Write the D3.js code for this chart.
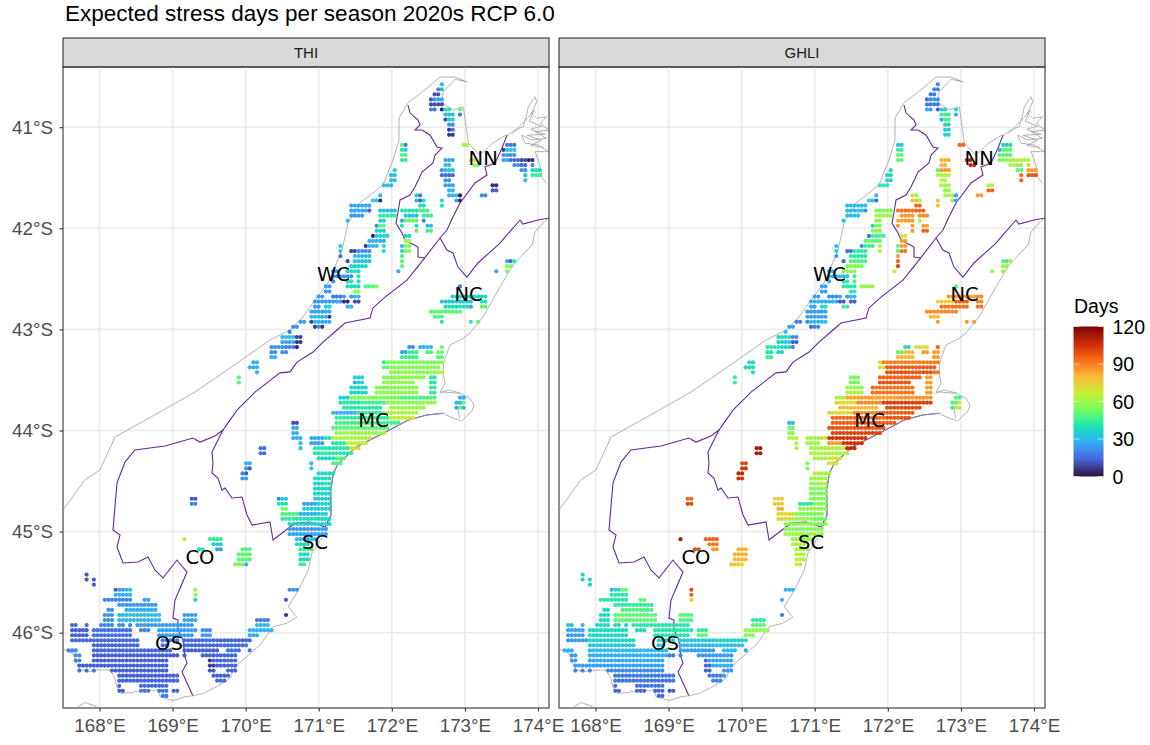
<!DOCTYPE html>
<html>
<head>
<meta charset="utf-8">
<script src="https://cdn.jsdelivr.net/npm/d3@7"></script>
<style>
body { margin: 0; background: #fff; }
svg { display: block; }
text { font-family: "Liberation Sans", Arial, sans-serif; }
</style>
</head>
<body>
<script>
var w = 1150;
var h = 745;

var panels = ["THI", "GHLI"];
var lonTicks = [168, 169, 170, 171, 172, 173, 174];
var latTicks = [41, 42, 43, 44, 45, 46];
var legendTicks = [0, 30, 60, 90, 120];
var turboColors = ["#30123B", "#4662D7", "#36AAF9", "#1AE4B6", "#72FE5E", "#C8EF34", "#FABA39", "#F66B19", "#CB2A04", "#7A0403"];

var regionNames = ["NN", "WC", "NC", "MC", "SC", "CO", "OS"];
var regionLons = [173.25, 171.2, 173.05, 171.75, 170.95, 169.375, 168.95];
var regionLats = [41.3, 42.45, 42.65, 43.9, 45.1, 45.25, 46.1];

// grid cells, one run per row: lat, first lon, last lon, THI days, GHLI days
var osRuns = [
    [45.425,167.825,167.825,12,36],[45.475,167.825,167.825,12,36],[45.475,167.925,167.925,13,36],[45.525,167.925,167.925,13,36],
    [45.575,168.225,168.225,12,28],[45.575,168.275,168.325,25,38],[45.575,168.375,168.425,30,52],
    [45.625,168.225,168.425,28,42],
    [45.675,168.075,168.425,20,42],[45.675,168.625,168.675,25,50],
    [45.725,168.275,168.775,24,44],
    [45.775,168.125,168.175,22,38],[45.775,168.375,168.775,28,48],
    [45.825,168.075,168.175,22,38],[45.825,168.275,168.825,30,50],[45.825,169.175,169.325,24,48],
    [45.875,168.075,168.175,22,38],[45.875,168.275,168.825,30,50],[45.875,169.175,169.325,26,48],[45.875,170.175,170.325,18,42],
    [45.925,167.625,167.675,15,30],[45.925,167.825,167.825,15,30],[45.925,168.025,168.175,20,38],[45.925,168.275,168.325,22,38],[45.925,168.425,168.425,18,36],[45.925,168.525,169.275,24,42],[45.925,170.175,170.325,30,50],
    [45.975,167.625,167.825,13,26],[45.975,167.925,168.425,16,38],[45.975,168.575,168.675,20,38],[45.975,168.825,169.325,25,42],[45.975,169.425,169.525,22,44],[45.975,170.075,170.375,28,58],
    [46.025,167.625,167.825,13,24],[46.025,167.925,168.425,16,38],[46.025,168.825,169.275,24,42],[46.025,169.425,169.525,24,50],[46.025,170.075,170.175,26,55],
    [46.075,167.625,167.875,15,24],[46.075,167.925,168.525,15,36],[46.075,168.875,169.075,18,36],[46.075,169.175,169.625,15,34],[46.075,169.675,170.075,14,36],
    [46.125,167.925,168.525,14,34],[46.125,168.875,168.925,16,34],[46.125,169.175,169.625,14,30],[46.125,169.675,170.025,16,32],
    [46.175,167.575,167.675,20,28],[46.175,167.925,168.775,14,30],[46.175,168.825,168.975,14,30],[46.175,169.175,169.625,13,24],[46.175,169.775,169.925,16,30],[46.175,170.075,170.075,18,26],
    [46.225,167.675,167.725,22,24],[46.225,167.925,168.975,13,28],[46.225,169.025,169.075,12,18],[46.225,169.175,169.175,13,20],[46.225,169.425,169.875,14,24],
    [46.275,167.675,167.725,20,24],[46.275,167.925,168.925,13,27],[46.275,169.525,169.525,6,14],[46.275,169.575,169.875,14,26],
    [46.325,167.725,168.925,13,25],[46.325,169.525,169.575,7,14],[46.325,169.625,169.875,14,28],
    [46.375,167.725,167.725,17,20],[46.375,167.825,167.825,17,20],[46.375,167.925,167.925,17,20],[46.375,168.175,168.925,13,21],[46.375,169.525,169.575,12,14],[46.375,169.775,169.875,14,24],
    [46.425,168.275,169.075,13,18],[46.425,169.575,169.725,13,18],[46.425,169.775,169.775,14,24],
    [46.475,168.275,169.075,14,17],[46.475,169.625,169.725,14,20],
    [46.525,168.275,168.275,14,16],[46.525,168.575,168.925,15,17],
    [46.575,168.275,168.325,14,15],[46.575,168.575,168.675,17,14],[46.575,168.825,168.925,17,14],[46.575,169.025,169.075,14,12],
    [46.625,168.875,168.925,18,14],
    [45.575,170.625,170.725,22,30],[45.675,170.575,170.575,12,28],[45.825,170.575,170.575,6,18]
];

var coRuns = [
    [45.075,169.175,169.175,62,112],[45.075,169.525,169.675,44,95],[45.125,169.575,169.675,34,90],
    [45.175,169.375,169.425,40,100],[45.175,169.625,169.675,24,85],[45.175,169.975,170.075,48,82],
    [45.225,169.925,170.075,50,82],[45.275,169.925,170.075,50,80],[45.325,169.875,169.975,55,78],[45.325,170.025,170.025,30,68],
    [45.575,169.325,169.325,58,100],[45.625,169.325,169.325,56,95],[45.675,169.325,169.325,38,75],
    [44.175,170.225,170.275,16,112],[44.225,170.225,170.275,16,112],
    [44.325,170.025,170.075,28,100],[44.375,170.025,170.025,22,105],[44.375,170.075,170.075,12,105],
    [44.425,169.975,169.975,20,108],[44.425,170.025,170.025,12,108],[44.475,169.975,170.025,24,105],
    [44.675,169.275,169.325,12,95],[44.725,169.275,169.325,20,100],
    [43.475,169.925,169.925,50,45],[43.525,169.925,169.925,50,45],
    [43.325,170.125,170.175,28,38],[43.375,170.075,170.175,28,38],[43.425,170.175,170.175,30,38]
];

var mcRuns = [
    [43.175,172.275,172.325,22,38],[43.175,172.425,172.575,30,70],[43.175,172.725,172.725,52,95],
    [43.225,172.175,172.225,25,50],[43.225,172.275,172.375,45,80],[43.225,172.525,172.575,48,85],[43.225,172.675,172.725,52,85],
    [43.275,172.175,172.375,45,80],[43.275,172.675,172.725,50,85],
    [43.325,171.925,171.925,42,66],[43.325,171.975,172.725,55,90],
    [43.375,171.925,171.975,50,70],[43.375,172.025,172.675,56,96],
    [43.425,172.025,172.625,58,98],[43.425,172.675,172.725,62,92],
    [43.475,171.525,171.625,35,55],[43.475,171.925,172.475,56,95],[43.475,172.575,172.625,42,85],
    [43.525,171.525,171.525,25,52],[43.525,171.575,171.625,35,52],[43.525,171.925,172.325,58,98],[43.525,172.575,172.625,42,85],
    [43.575,171.475,171.675,38,60],[43.575,171.825,172.375,56,92],[43.575,172.575,172.625,44,85],
    [43.625,171.475,171.675,36,62],[43.625,171.825,172.375,58,92],[43.625,172.575,172.625,44,85],
    [43.675,171.325,171.425,36,62],[43.675,171.475,172.125,55,84],[43.675,172.175,172.625,48,86],
    [43.725,171.325,171.575,42,72],[43.725,171.625,171.925,46,88],[43.725,171.975,172.625,58,102],
    [43.775,171.375,171.875,42,80],[43.775,172.025,172.475,60,100],
    [43.825,171.225,171.525,30,72],[43.825,171.575,171.875,44,88],[43.825,171.925,172.375,62,96],
    [43.875,171.275,171.975,44,94],[43.875,172.025,172.225,65,98],[43.875,172.275,172.325,70,98],
    [43.925,171.275,172.125,46,96],
    [43.975,171.225,171.975,50,98],
    [44.025,171.275,171.925,60,102],
    [44.075,170.675,170.775,28,62],[44.075,170.925,171.075,26,60],[44.075,171.125,171.175,40,72],[44.075,171.225,171.725,62,105],
    [44.125,170.775,170.775,32,62],[44.125,170.925,171.075,25,60],[44.125,171.225,171.375,42,85],[44.125,171.425,171.675,65,105],
    [44.175,170.775,170.775,32,62],[44.175,170.975,171.425,42,62],[44.175,171.475,171.575,72,108],
    [44.225,170.975,171.475,42,62],
    [44.275,171.025,171.225,38,62],[44.275,171.275,171.375,48,70],
    [44.325,170.925,170.925,30,55],[44.325,171.225,171.325,48,70],
    [44.375,170.925,170.925,36,55],
    [43.675,172.975,173.025,28,48],[43.725,172.925,172.975,30,48],[43.725,173.025,173.025,50,70],[43.775,172.925,172.925,26,44],[43.775,172.975,172.975,50,70],[43.775,173.025,173.025,30,60],
    [43.925,170.675,170.725,10,30],[43.975,170.675,170.725,26,52],[44.025,170.675,170.725,28,58]
];

var scRuns = [
    [44.425,171.025,171.225,38,62],
    [44.475,170.975,171.175,38,60],
    [44.525,170.975,171.075,38,58],[44.525,171.125,171.175,42,62],
    [44.575,170.975,171.175,36,56],
    [44.625,170.975,171.175,36,55],
    [44.675,170.475,170.475,20,72],[44.675,170.525,170.575,34,75],[44.675,170.975,171.175,34,55],
    [44.725,170.475,170.575,40,75],[44.725,170.825,170.975,24,42],[44.725,171.025,171.175,36,55],
    [44.775,170.525,170.575,55,82],[44.775,170.825,171.175,36,58],
    [44.825,170.525,170.725,48,72],[44.825,170.775,170.975,28,55],[44.825,171.025,171.125,36,55],
    [44.875,170.525,170.675,44,72],[44.875,170.725,170.975,40,58],[44.875,171.025,171.175,36,52],
    [44.925,170.625,171.175,35,56],
    [44.975,170.625,171.125,24,56],
    [45.025,170.625,171.125,26,60],
    [45.075,170.725,170.975,30,58],
    [45.125,170.725,170.875,38,62],
    [45.175,170.775,170.925,45,62],
    [45.225,170.775,170.875,38,65],
    [45.275,170.775,170.875,38,65],
    [45.325,170.775,170.825,44,68]
];

var wcRuns = [
    [41.175,172.175,172.175,50,32],[41.175,172.225,172.225,18,32],
    [41.225,172.175,172.175,42,45],[41.225,172.225,172.225,34,45],
    [41.275,172.175,172.225,48,50],[41.325,172.175,172.225,45,50],
    [41.425,172.075,172.075,38,38],[41.475,172.025,172.075,32,36],[41.525,172.025,172.075,32,36],
    [41.575,171.925,172.025,30,42],
    [41.675,171.875,171.875,30,30],
    [41.725,171.775,171.825,35,35],[41.725,171.875,171.875,4,15],
    [41.775,171.475,171.725,26,30],
    [41.825,171.475,171.675,26,32],[41.825,171.725,171.725,14,22],[41.825,171.875,172.075,32,55],
    [41.875,171.475,171.625,24,32],[41.875,171.875,172.075,44,60],
    [41.925,171.425,171.425,30,35],[41.925,171.875,171.925,36,58],
    [41.975,171.825,171.825,20,38],[41.975,171.875,171.925,50,55],
    [42.025,171.825,171.925,36,55],
    [42.075,171.775,171.775,3,15],[42.075,171.825,171.975,36,46],
    [42.125,171.725,171.925,28,50],
    [42.175,171.325,171.325,35,33],[42.175,171.675,171.675,6,20],[42.175,171.725,171.825,30,45],[42.175,171.925,171.925,40,62],
    [42.225,171.325,171.325,35,35],[42.225,171.475,171.525,8,15],[42.225,171.575,171.725,22,42],[42.225,171.925,171.925,40,62],
    [42.275,171.325,171.325,16,25],[42.275,171.525,171.725,30,42],
    [42.325,171.425,171.425,10,14],[42.325,171.525,171.725,32,48],
    [42.375,171.475,171.675,38,55],
    [42.425,171.225,171.275,22,30],[42.425,171.425,171.575,38,58],
    [42.475,171.225,171.475,22,30],[42.475,171.575,171.575,40,45],
    [42.525,171.225,171.225,22,28],[42.525,171.425,171.475,40,42],[42.525,171.575,171.575,40,45],
    [42.575,171.125,171.175,24,25],[42.575,171.425,171.575,38,42],[42.575,171.675,171.775,48,58],[42.575,171.825,171.825,54,62],
    [42.625,171.125,171.175,24,25],[42.625,171.525,171.575,58,42],
    [42.675,171.025,171.075,24,25],[42.675,171.225,171.325,18,22],[42.675,171.375,171.375,24,25],[42.675,171.475,171.475,24,24],[42.675,171.525,171.575,32,30],
    [42.725,170.975,171.325,24,28],[42.725,171.375,171.425,5,12],[42.725,171.525,171.575,10,14],
    [42.775,170.975,171.025,24,26],[42.775,171.125,171.175,35,38],[42.775,171.425,171.475,28,45],
    [42.825,170.925,171.175,26,24],
    [42.875,170.925,171.125,30,26],[42.875,171.175,171.175,6,26],
    [42.925,170.775,170.825,24,18],[42.925,170.925,170.925,8,20],[42.925,170.975,171.175,28,30],
    [42.975,170.675,170.725,22,25],[42.975,170.975,170.975,6,14],[42.975,171.025,171.025,22,18],[42.975,171.075,171.075,6,20],
    [43.025,170.625,170.625,18,32],
    [43.075,170.525,170.675,30,38],[43.075,170.725,170.775,8,20],
    [43.125,170.525,170.675,26,35],[43.125,170.725,170.775,6,12],
    [43.175,170.375,170.525,22,42],[43.175,170.575,170.675,18,36],[43.175,170.725,170.725,3,20],
    [43.225,170.375,170.425,22,40],[43.225,170.525,170.575,22,38],
    [43.275,170.375,170.425,28,45]
];

var nnRuns = [
    [40.575,172.725,172.725,30,20],[40.625,172.675,172.675,20,20],[40.625,172.725,172.725,30,20],
    [40.675,172.625,172.675,10,17],
    [40.725,172.575,172.575,10,14],[40.725,172.625,172.725,25,22],
    [40.775,172.575,172.725,10,18],
    [40.825,172.575,172.625,18,26],[40.825,172.725,172.725,3,12],[40.825,172.775,172.825,40,35],[40.825,172.975,172.975,50,40],
    [40.875,172.775,172.875,32,45],[40.875,172.975,172.975,18,28],
    [40.925,172.775,172.775,10,28],[40.925,172.825,172.875,35,48],
    [40.975,172.825,172.875,22,38],
    [41.025,172.825,172.825,5,35],[41.025,172.875,172.875,15,35],
    [41.075,172.825,172.875,6,38],
    [41.175,173.025,173.075,60,95],
    [41.325,172.775,172.875,26,82],[41.325,173.125,173.175,66,110],
    [41.375,172.775,172.825,32,82],[41.375,173.175,173.225,55,108],
    [41.425,172.725,172.725,22,50],[41.425,172.775,172.875,32,85],
    [41.475,172.725,172.875,16,62],
    [41.525,172.775,172.825,22,65],
    [41.575,172.775,172.875,24,60],[41.575,173.425,173.475,5,62],
    [41.625,172.825,172.875,30,58],[41.625,173.425,173.475,12,95],
    [41.675,172.375,172.375,34,72],[41.675,172.425,172.425,18,58],[41.675,172.825,172.925,30,62],[41.675,172.975,172.975,2,25],[41.675,173.275,173.325,22,85],
    [41.725,172.375,172.375,32,80],[41.725,172.425,172.425,12,80],[41.725,172.475,172.475,40,60],[41.725,172.725,172.725,40,78],[41.725,172.925,172.925,28,65],[41.725,172.975,172.975,3,25],
    [41.775,172.425,172.475,38,95],[41.775,172.725,172.725,40,78],
    [41.825,172.175,172.375,42,92],[41.825,172.425,172.525,46,95],
    [41.875,172.225,172.375,32,85],[41.875,172.475,172.575,45,88],
    [41.925,172.175,172.175,25,82],[41.925,172.225,172.375,52,85],[41.925,172.475,172.475,20,60],
    [41.975,172.175,172.175,42,85],[41.975,172.375,172.375,38,85],[41.975,172.525,172.575,32,85],
    [42.025,172.375,172.375,50,85],[42.025,172.525,172.575,45,95],
    [42.075,172.225,172.275,38,70],
    [42.125,172.225,172.275,62,85],
    [42.175,172.175,172.175,30,50],[42.175,172.225,172.275,55,85],
    [42.225,172.175,172.175,35,50],[42.225,172.225,172.275,55,92],
    [42.275,172.175,172.175,45,85],[42.325,172.175,172.175,50,95],[42.375,172.175,172.175,50,100],
    [41.175,173.625,173.725,18,38],
    [41.225,173.575,173.575,8,28],[41.225,173.625,173.725,34,50],
    [41.275,173.575,173.725,22,50],
    [41.325,173.575,173.625,25,55],[41.325,173.675,173.775,14,60],[41.325,173.825,173.875,10,70],[41.325,173.925,173.975,4,60],
    [41.375,173.725,173.775,22,62],[41.375,173.825,173.875,14,55],[41.375,173.975,173.975,20,75],
    [41.425,173.825,173.875,22,50],[41.425,173.975,174.075,38,85],
    [41.475,173.875,173.875,32,92],[41.475,173.975,174.075,45,98],
    [41.525,173.875,173.875,36,95]
];

var ncRuns = [
    [42.425,172.125,172.125,28,68],[42.425,173.475,173.475,26,62],
    [42.325,173.625,173.625,26,50],[42.325,173.675,173.675,14,45],[42.325,173.725,173.725,42,60],
    [42.375,173.625,173.675,55,58],[42.425,173.625,173.625,58,60],
    [42.575,172.975,172.975,18,50],
    [42.675,172.875,173.225,38,85],[42.675,173.275,173.325,38,88],
    [42.725,172.725,172.925,34,75],[42.725,172.975,173.125,34,95],[42.725,173.275,173.325,40,90],
    [42.775,172.775,173.075,40,92],[42.775,173.125,173.125,25,92],[42.775,173.275,173.325,50,92],
    [42.825,172.575,172.975,50,88],
    [42.875,172.625,172.725,48,80],
    [42.925,172.725,172.725,42,85],[42.925,173.125,173.125,42,85],[42.925,173.225,173.225,50,85]
];

// outlines as lon/lat
var coastOutline = [
    [167.5,46.164],[167.642,46.204],[167.665,46.253],[167.688,46.303],[167.734,46.369],[167.849,46.385],[167.964,46.369],[168.148,46.369],[168.217,46.451],[168.24,46.534],[168.309,46.6],[168.424,46.593],[168.561,46.577],[168.814,46.567],[168.837,46.633],[169.021,46.672],[169.182,46.633],[169.297,46.623],[169.435,46.6],[169.619,46.534],[169.803,46.451],[169.872,46.336],[170.033,46.237],[170.217,46.121],[170.4,45.94],[170.584,45.907],[170.722,45.848],[170.607,45.743],[170.745,45.579],[170.883,45.38],[170.93,45.215],[171.113,45.017],[171.196,44.836],[171.192,44.59],[171.228,44.424],[171.297,44.325],[171.55,44.16],[171.917,44.028],[172.262,43.896],[172.515,43.847],[172.745,43.83],[172.883,43.88],[172.998,43.903],[173.136,43.814],[173.168,43.748],[173.113,43.682],[172.975,43.632],[172.699,43.616],[172.768,43.534],[172.745,43.435],[172.745,43.336],[172.837,43.154],[173.02,43.088],[173.113,43.036],[173.292,42.877],[173.527,42.581],[173.706,42.363],[173.968,42.165],[174.01,42.037],[174.134,41.938],[174.203,41.898]
];
var westCoast = [
    [167.5,44.786],[167.8,44.49],[168.01,44.39],[168.217,44.064],[168.837,43.817],[169.32,43.62],[169.803,43.382],[170.354,43.105],[170.63,43.006],[170.81,42.877],[170.948,42.739],[171.155,42.54],[171.348,42.215],[171.43,41.948],[171.596,41.75],[171.913,41.572],[172.05,41.325],[172.134,41.128],[172.134,40.91],[172.258,40.76],[172.52,40.613],[172.7,40.504],[172.906,40.504],[173.07,40.553],[172.906,40.525],[172.74,40.657],[172.727,40.755],[172.88,40.83],[173.02,40.8],[173.06,41],[173.09,41.156],[173.25,41.275],[173.43,41.156],[173.6,41.08],[173.641,41.077]
];
var soundsMain = [
    [173.641,41.077],[173.734,41.028],[173.848,40.995],[173.895,40.879],[173.917,40.797],[174.01,40.698],[174.033,40.748],[173.964,40.863],[174.033,40.912],[174.171,40.896],[174.079,40.962],[174.193,41.028],[174.01,41.045],[174.171,41.11],[173.964,41.127],[173.826,41.077],[173.872,41.159],[174.055,41.176],[174.193,41.242],[174.01,41.242],[174.079,41.374],[174.11,41.506],[174.171,41.555]
];
var soundsInner = [[173.7,41.06],[173.85,40.95],[173.92,40.9],[174,40.83],[173.93,40.94],[174.1,40.99],[173.95,41.02],[174.15,41.07],[173.9,41.08],[174.1,41.13],[173.95,41.18],[174.13,41.2]];
var banksHarbour = [[172.69,43.63],[172.82,43.6],[172.98,43.63]];
var banksAkaroa = [[172.98,43.75],[172.95,43.8],[172.97,43.87]];
var southFragment = [[167.711,46.73],[167.803,46.69],[167.964,46.73]];

var lineNorth = [
    [172.258,40.781],[172.286,40.86],[172.396,40.929],[172.423,40.978],[172.354,41.028],[172.451,41.028],[172.561,41.077],[172.658,41.196],[172.727,41.206],[172.63,41.275],[172.603,41.354],[172.451,41.443],[172.354,41.592],[172.286,41.671],[172.148,41.72],[172.12,41.839],[172.092,41.948],[172.175,42.047],[172.216,42.116],[172.396,42.185],[172.396,42.284],[172.492,42.294]
];
var lineWest = [
    [168.244,44.519],[168.354,44.312],[168.492,44.193],[168.906,44.154],[169.292,44.074],[169.389,44.114],[169.596,44.055],[169.706,43.995],[169.899,43.799],[170.148,43.62],[170.492,43.43],[170.63,43.42],[170.727,43.323],[170.948,43.224],[171.086,43.125],[171.279,43.006],[171.389,42.937],[171.734,42.887],[171.775,42.788],[171.941,42.68],[172.244,42.512],[172.465,42.314],[172.699,42.096]
];
var lineNelson = [
    [172.699,42.096],[172.795,42.017],[172.878,41.888],[172.975,41.75],[173.182,41.552],[173.348,41.473],[173.32,41.394],[173.458,41.354],[173.555,41.206],[173.624,41.077]
];
var lineCanterbury = [
    [172.699,42.096],[172.795,42.215],[172.878,42.244],[172.947,42.383],[173.071,42.482],[173.223,42.343],[173.389,42.235],[173.527,42.146],[173.623,42.066],[173.803,41.918],[173.844,41.958],[174.052,41.918],[174.203,41.898]
];
var lineMid = [
    [169.706,43.995],[169.554,44.213],[169.568,44.322],[169.554,44.42],[169.637,44.47],[169.692,44.589],[169.734,44.569],[169.83,44.668],[169.968,44.658],[170.037,44.836],[170.106,44.935],[170.354,44.905],[170.396,45.083],[170.63,44.955],[170.699,44.915],[170.906,44.905],[171.114,44.955]
];
var lineOtago = [
    [168.244,44.519],[168.189,44.984],[168.286,45.034],[168.244,45.153],[168.327,45.311],[168.534,45.301],[168.672,45.252],[168.768,45.38],[168.878,45.459],[169.071,45.281],[169.21,45.4],[169.044,45.677],[169.017,45.855],[169.086,45.875],[169.086,45.973],[169.154,46.072],[169.182,46.24],[169.21,46.3],[169.141,46.389],[169.223,46.518],[169.292,46.626]
];
var lineMidCoast = [
    [171.114,44.955],[171.196,44.836],[171.192,44.59],[171.228,44.424],[171.297,44.325],[171.55,44.16],[171.917,44.028],[172.262,43.896],[172.515,43.847],[172.745,43.83]
];

var panelTop = 67;
var panelHeight = 641;
var panelWidth = 486;
var stripHeight = 29;
var panelLefts = [63, 559];

var x = d3.scaleLinear().domain([168, 174]).range([36.5, 475]);
// ruler the cells and outlines were read against
var xRead = d3.scaleLinear().domain([168, 174]).range([36.3, 471.3]);
var y = d3.scaleLinear().domain([41, 46]).range([127.2 - panelTop, 632.7 - panelTop]);

var color = d3.scaleLinear()
    .domain(turboColors.map(function(d, i){ return i * 120 / (turboColors.length - 1); }))
    .range(turboColors);

var cells = [];
[osRuns, coRuns, mcRuns, scRuns, wcRuns, nnRuns, ncRuns].forEach(function(runs){
    runs.forEach(function(r){
        var n = Math.round((r[2] - r[1]) / 0.05);
        for(var i = 0; i <= n; i++){
            cells.push({lat: r[0], lon: r[1] + i * 0.05, THI: r[3], GHLI: r[4]});
        }
    });
});

var path = d3.line()
    .x(function(d){ return xRead(d[0]); })
    .y(function(d){ return y(d[1]); });

var svg = d3.select("body")
    .append("svg")
    .attr("width", w)
    .attr("height", h);

svg.append("text")
    .attr("x", 65)
    .attr("y", 21)
    .attr("font-size", 22.5)
    .attr("fill", "#000")
    .text("Expected stress days per season 2020s RCP 6.0");

svg.append("defs").append("clipPath")
    .attr("id", "panel-clip")
    .append("rect")
    .attr("width", panelWidth)
    .attr("height", panelHeight);

panels.forEach(function(name, p){
    var g = svg.append("g")
        .attr("transform", "translate(" + panelLefts[p] + "," + panelTop + ")");

    // strip
    g.append("rect")
        .attr("y", -stripHeight)
        .attr("width", panelWidth)
        .attr("height", stripHeight)
        .attr("fill", "#D9D9D9")
        .attr("stroke", "#333")
        .attr("stroke-width", 1.1);
    g.append("text")
        .attr("x", panelWidth / 2)
        .attr("y", -stripHeight / 2)
        .attr("dy", "0.35em")
        .attr("text-anchor", "middle")
        .attr("font-size", 15)
        .attr("fill", "#1A1A1A")
        .text(name);

    // gridlines
    g.selectAll(".gx").data(lonTicks).enter().append("line")
        .attr("x1", function(d){ return x(d); })
        .attr("x2", function(d){ return x(d); })
        .attr("y2", panelHeight)
        .attr("stroke", "#EBEBEB")
        .attr("stroke-width", 1.6);
    g.selectAll(".gy").data(latTicks).enter().append("line")
        .attr("y1", function(d){ return y(d); })
        .attr("y2", function(d){ return y(d); })
        .attr("x2", panelWidth)
        .attr("stroke", "#EBEBEB")
        .attr("stroke-width", 1.6);

    var inner = g.append("g").attr("clip-path", "url(#panel-clip)");

    var grey = [coastOutline, westCoast, soundsMain, soundsInner, banksHarbour, banksAkaroa, southFragment];
    var purple = [lineNorth, lineWest, lineNelson, lineCanterbury, lineMid, lineOtago, lineMidCoast];

    inner.selectAll(".region").data(purple).enter().append("path")
        .attr("d", path)
        .attr("fill", "none")
        .attr("stroke", "#64289A")
        .attr("stroke-width", 1.1);
    inner.selectAll(".coast").data(grey).enter().append("path")
        .attr("d", path)
        .attr("fill", "none")
        .attr("stroke", "#A0A0A0")
        .attr("stroke-width", 0.8);

    inner.selectAll("circle").data(cells).enter().append("circle")
        .attr("cx", function(d){ return xRead(d.lon); })
        .attr("cy", function(d){ return y(d.lat); })
        .attr("r", 2.1)
        .attr("fill", function(d){ return color(d[name]); });

    inner.selectAll(".region-label").data(regionNames).enter().append("text")
        .attr("x", function(d, i){ return x(regionLons[i]); })
        .attr("y", function(d, i){ return y(regionLats[i]); })
        .attr("dy", "0.36em")
        .attr("text-anchor", "middle")
        .style("font-family", "'DejaVu Sans'")
        .attr("font-size", 19.5)
        .attr("fill", "#000")
        .text(function(d){ return d; });

    g.append("rect")
        .attr("width", panelWidth)
        .attr("height", panelHeight)
        .attr("fill", "none")
        .attr("stroke", "#333")
        .attr("stroke-width", 1.1);

    // axes
    var xAxis = d3.axisBottom(x)
        .tickValues(lonTicks)
        .tickSize(3.5)
        .tickFormat(function(d){ return d + "°E"; });
    var ax = g.append("g")
        .attr("transform", "translate(0," + panelHeight + ")")
        .call(xAxis);
    ax.select(".domain").remove();
    ax.selectAll("line").attr("stroke", "#333").attr("stroke-width", 1.1);
    ax.selectAll("text")
        .attr("y", 10.5)
        .attr("font-size", 18.8)
        .style("font-family", "'Liberation Sans'")
        .attr("fill", "#4D4D4D");

    if(p == 0){
        var yAxis = d3.axisLeft(y)
            .tickValues(latTicks)
            .tickSize(3.5)
            .tickFormat(function(d){ return d + "°S"; });
        var ay = g.append("g").call(yAxis);
        ay.select(".domain").remove();
        ay.selectAll("line").attr("stroke", "#333").attr("stroke-width", 1.1);
        ay.selectAll("text")
            .attr("x", -10)
            .attr("font-size", 18.8)
            .style("font-family", "'Liberation Sans'")
            .attr("fill", "#4D4D4D");
    }
});

// legend
var legendY = d3.scaleLinear().domain([0, 120]).range([476.5, 326.5]);
var defs = svg.select("defs");
var grad = defs.append("linearGradient")
    .attr("id", "days-grad")
    .attr("x1", 0).attr("x2", 0).attr("y1", 1).attr("y2", 0);
grad.selectAll("stop").data(turboColors).enter().append("stop")
    .attr("offset", function(d, i){ return i / (turboColors.length - 1); })
    .attr("stop-color", function(d){ return d; });

svg.append("text")
    .attr("x", 1074)
    .attr("y", 313)
    .attr("font-size", 19.5)
    .attr("fill", "#000")
    .text("Days");

svg.append("rect")
    .attr("x", 1073.5)
    .attr("y", legendY(120))
    .attr("width", 30)
    .attr("height", legendY(0) - legendY(120))
    .attr("fill", "url(#days-grad)");

legendTicks.forEach(function(t){
    svg.append("line")
        .attr("x1", 1073.5).attr("x2", 1079.5)
        .attr("y1", legendY(t)).attr("y2", legendY(t))
        .attr("stroke", "#fff").attr("stroke-width", 0.6);
    svg.append("line")
        .attr("x1", 1097.5).attr("x2", 1103.5)
        .attr("y1", legendY(t)).attr("y2", legendY(t))
        .attr("stroke", "#fff").attr("stroke-width", 0.6);
    svg.append("text")
        .attr("x", 1112.5)
        .attr("y", legendY(t))
        .attr("dy", "0.36em")
        .attr("font-size", 19.5)
        .attr("fill", "#000")
        .text(t);
});
</script>
</body>
</html>
